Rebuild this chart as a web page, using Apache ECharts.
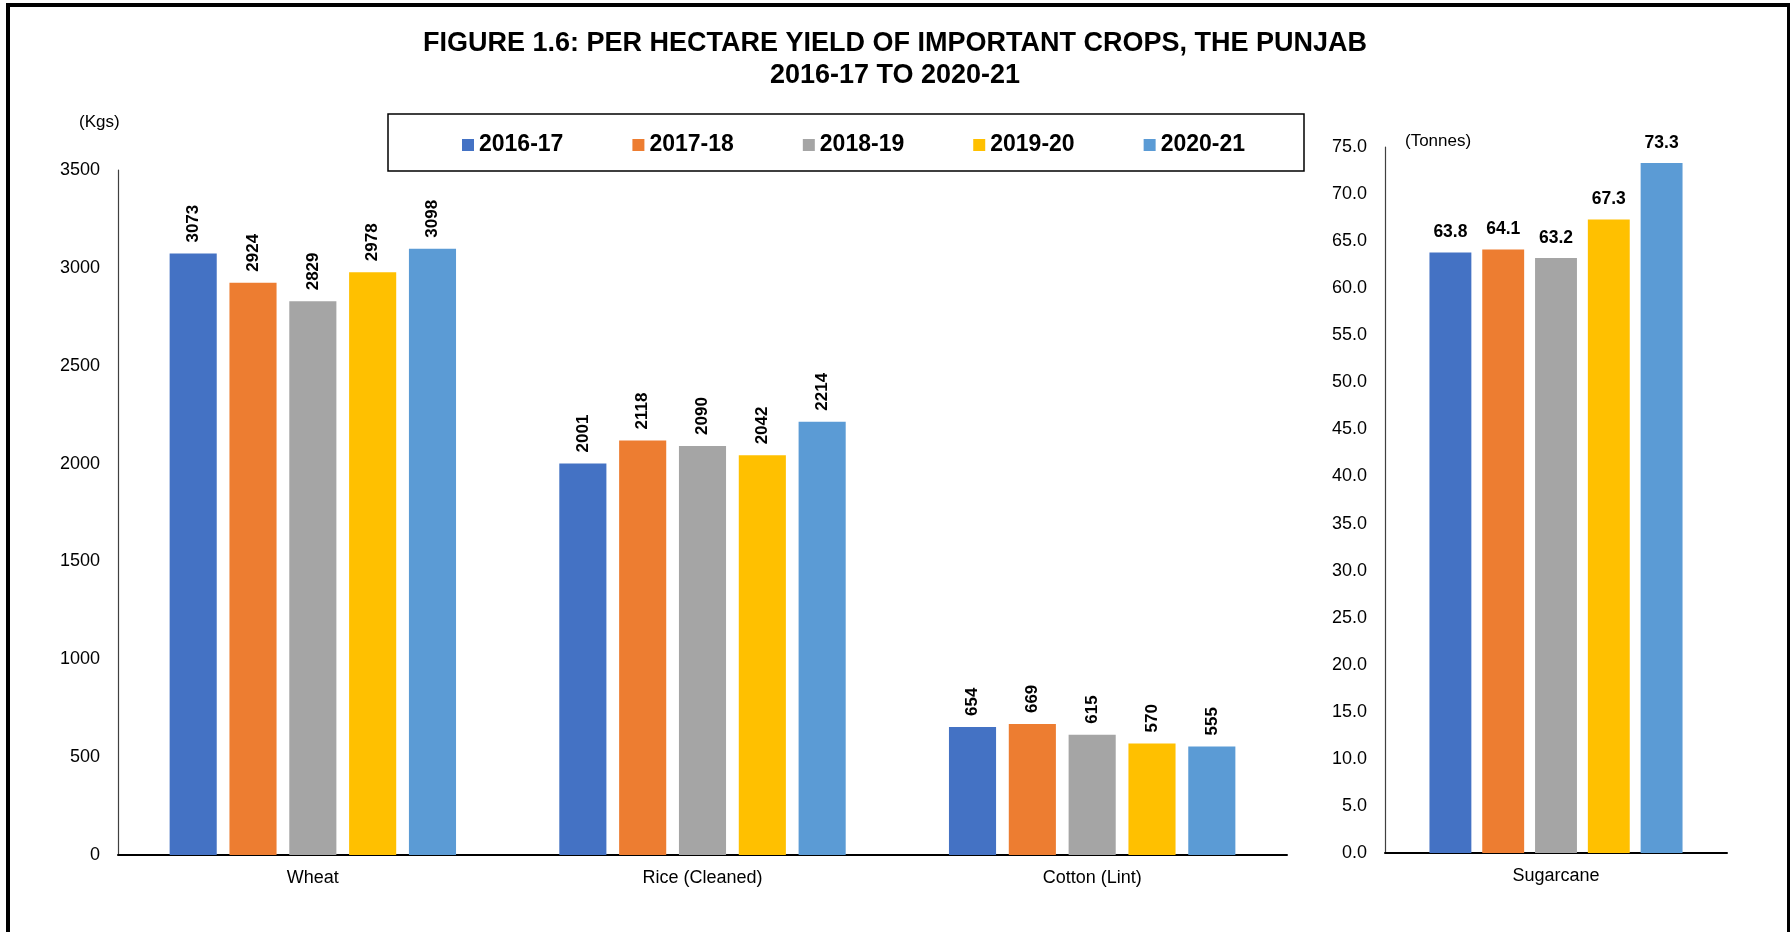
<!DOCTYPE html>
<html>
<head>
<meta charset="utf-8">
<script src="https://cdn.jsdelivr.net/npm/echarts@6/dist/echarts.min.js"></script>
<style>
html,body{margin:0;padding:0;background:#fff;}
#chart{width:1790px;height:932px;}
</style>
</head>
<body>
<div id="chart"></div>
<script>
// ---- data ----
const years = ['2016-17', '2017-18', '2018-19', '2019-20', '2020-21'];
const colors = ['#4472C4', '#ED7D31', '#A5A5A5', '#FFC000', '#5B9BD5'];
const kgCrops = ['Wheat', 'Rice (Cleaned)', 'Cotton (Lint)'];
const y2016_17 = [3073, 2001, 654];
const y2017_18 = [2924, 2118, 669];
const y2018_19 = [2829, 2090, 615];
const y2019_20 = [2978, 2042, 570];
const y2020_21 = [3098, 2214, 555];
const kgSeries = [y2016_17, y2017_18, y2018_19, y2019_20, y2020_21];
const tonneCrops = ['Sugarcane'];
const sugarcane = [63.8, 64.1, 63.2, 67.3, 73.3]; // one value per year
const titleText = 'FIGURE 1.6: PER HECTARE YIELD OF IMPORTANT CROPS, THE PUNJAB\n2016-17 TO 2020-21';

const FONT = "'Liberation Sans', Arial, sans-serif";
const chart = echarts.init(document.getElementById('chart'));

const series = [];
years.forEach((y, i) => {
  series.push({
    name: y, type: 'bar', xAxisIndex: 0, yAxisIndex: 0,
    data: kgSeries[i],
    itemStyle: { color: colors[i] },
    barGap: '27%', barCategoryGap: '26.5%',
    label: {
      show: true, position: 'top', rotate: 90, align: 'left', verticalAlign: 'middle',
      distance: 11, fontFamily: FONT, fontWeight: 'bold', fontSize: 17, color: '#000'
    }
  });
});
years.forEach((y, i) => {
  series.push({
    name: y, type: 'bar', xAxisIndex: 1, yAxisIndex: 1,
    data: [sugarcane[i]],
    itemStyle: { color: colors[i] },
    barGap: '26%', barCategoryGap: '26%',
    label: {
      show: true, position: 'top', distance: 11,
      fontFamily: FONT, fontWeight: 'bold', fontSize: 17.5, color: '#000',
      formatter: p => p.value.toFixed(1)
    }
  });
});

const axisLabelStyle = { color: '#000', fontFamily: FONT, fontSize: 18 };

chart.setOption({
  animation: false,
  backgroundColor: '#fff',
  title: {
    text: titleText, left: 'center', top: 23,
    textStyle: { fontFamily: FONT, fontWeight: 'bold', fontSize: 27, lineHeight: 32, color: '#000' }
  },
  legend: {
    data: years, left: 457, top: 128,
    itemWidth: 12, itemHeight: 12, itemGap: 69, icon: 'rect',
    textStyle: { fontFamily: FONT, fontWeight: 'bold', fontSize: 23, lineHeight: 24, color: '#000' }
  },
  grid: [
    { left: 118, right: 503, top: 170, bottom: 77 },
    { left: 1385, right: 63, top: 147, bottom: 79 }
  ],
  xAxis: [
    { type: 'category', gridIndex: 0, data: kgCrops,
      axisLine: { lineStyle: { color: '#000', width: 2 } }, axisTick: { show: false },
      axisLabel: Object.assign({ margin: 14 }, axisLabelStyle) },
    { type: 'category', gridIndex: 1, data: tonneCrops,
      axisLine: { lineStyle: { color: '#000', width: 2 } }, axisTick: { show: false },
      axisLabel: Object.assign({ margin: 14 }, axisLabelStyle) }
  ],
  yAxis: [
    { type: 'value', gridIndex: 0, min: 0, max: 3500, interval: 500,
      axisLine: { show: true, lineStyle: { color: '#404040', width: 1.2 } },
      axisTick: { show: false }, splitLine: { show: false },
      axisLabel: Object.assign({ margin: 18, formatter: v => String(v) }, axisLabelStyle) },
    { type: 'value', gridIndex: 1, min: 0, max: 75, interval: 5,
      axisLine: { show: true, lineStyle: { color: '#404040', width: 1.2 } },
      axisTick: { show: false }, splitLine: { show: false },
      axisLabel: Object.assign({ margin: 18, formatter: v => v.toFixed(1) }, axisLabelStyle) }
  ],
  graphic: [
    { type: 'rect', shape: { x: 388, y: 114, width: 916, height: 57 },
      style: { fill: 'none', stroke: '#000', lineWidth: 1.5 }, silent: true },
    { type: 'rect', shape: { x: 6, y: 3, width: 1784, height: 4 }, style: { fill: '#000' }, silent: true },
    { type: 'rect', shape: { x: 6, y: 3, width: 4, height: 929 }, style: { fill: '#000' }, silent: true },
    { type: 'rect', shape: { x: 1787, y: 3, width: 3, height: 929 }, style: { fill: '#000' }, silent: true },
    { type: 'text', left: 79, top: 114,
      style: { text: '(Kgs)', fontFamily: FONT, fontSize: 17, fill: '#000' } },
    { type: 'text', left: 1405, top: 133,
      style: { text: '(Tonnes)', fontFamily: FONT, fontSize: 17, fill: '#000' } }
  ],
  series: series
});
</script>
</body>
</html>
